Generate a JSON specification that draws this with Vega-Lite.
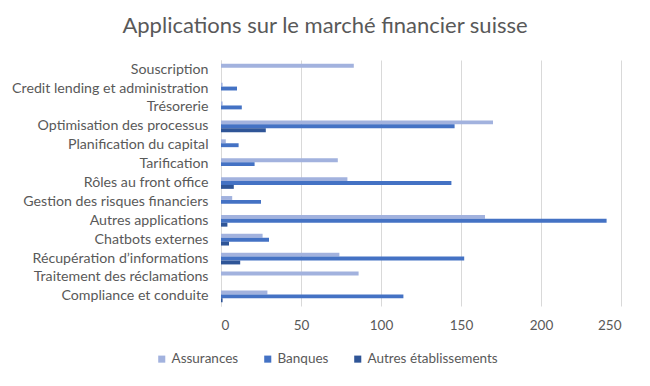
{
  "$schema": "https://vega.github.io/schema/vega-lite/v6.json",
  "width": 400,
  "height": 246,
  "autosize": {"type": "none"},
  "padding": {"left": 221, "top": 60, "right": 29, "bottom": 80},
  "background": "white",
  "title": {
    "text": "Applications sur le marché financier suisse",
    "font": "Lato",
    "fontSize": 22,
    "fontWeight": "normal",
    "color": "#595959",
    "anchor": "middle",
    "frame": "group",
    "dx": -96,
    "offset": 22
  },
  "data": {
    "values": [
      {"cat": "Souscription", "series": "Assurances", "value": 83},
      {"cat": "Souscription", "series": "Banques", "value": 0},
      {"cat": "Souscription", "series": "Autres établissements", "value": 0},
      {"cat": "Credit lending et administration", "series": "Assurances", "value": 1},
      {"cat": "Credit lending et administration", "series": "Banques", "value": 10},
      {"cat": "Credit lending et administration", "series": "Autres établissements", "value": 0},
      {"cat": "Trésorerie", "series": "Assurances", "value": 1},
      {"cat": "Trésorerie", "series": "Banques", "value": 13},
      {"cat": "Trésorerie", "series": "Autres établissements", "value": 0},
      {"cat": "Optimisation des processus", "series": "Assurances", "value": 170},
      {"cat": "Optimisation des processus", "series": "Banques", "value": 146},
      {"cat": "Optimisation des processus", "series": "Autres établissements", "value": 28},
      {"cat": "Planification du capital", "series": "Assurances", "value": 3},
      {"cat": "Planification du capital", "series": "Banques", "value": 11},
      {"cat": "Planification du capital", "series": "Autres établissements", "value": 0},
      {"cat": "Tarification", "series": "Assurances", "value": 73},
      {"cat": "Tarification", "series": "Banques", "value": 21},
      {"cat": "Tarification", "series": "Autres établissements", "value": 0},
      {"cat": "Rôles au front office", "series": "Assurances", "value": 79},
      {"cat": "Rôles au front office", "series": "Banques", "value": 144},
      {"cat": "Rôles au front office", "series": "Autres établissements", "value": 8},
      {"cat": "Gestion des risques financiers", "series": "Assurances", "value": 7},
      {"cat": "Gestion des risques financiers", "series": "Banques", "value": 25},
      {"cat": "Gestion des risques financiers", "series": "Autres établissements", "value": 0},
      {"cat": "Autres applications", "series": "Assurances", "value": 165},
      {"cat": "Autres applications", "series": "Banques", "value": 241},
      {"cat": "Autres applications", "series": "Autres établissements", "value": 4},
      {"cat": "Chatbots externes", "series": "Assurances", "value": 26},
      {"cat": "Chatbots externes", "series": "Banques", "value": 30},
      {"cat": "Chatbots externes", "series": "Autres établissements", "value": 5},
      {"cat": "Récupération d’informations", "series": "Assurances", "value": 74},
      {"cat": "Récupération d’informations", "series": "Banques", "value": 152},
      {"cat": "Récupération d’informations", "series": "Autres établissements", "value": 12},
      {"cat": "Traitement des réclamations", "series": "Assurances", "value": 86},
      {"cat": "Traitement des réclamations", "series": "Banques", "value": 0},
      {"cat": "Traitement des réclamations", "series": "Autres établissements", "value": 0},
      {"cat": "Compliance et conduite", "series": "Assurances", "value": 29},
      {"cat": "Compliance et conduite", "series": "Banques", "value": 114},
      {"cat": "Compliance et conduite", "series": "Autres établissements", "value": 1}
    ]
  },
  "mark": {"type": "bar"},
  "encoding": {
    "y": {
      "field": "cat",
      "type": "nominal",
      "sort": null,
      "title": null,
      "scale": {"paddingInner": 0.38, "paddingOuter": 0.2},
      "axis": {
        "domain": true,
        "domainColor": "#D9D9D9",
        "ticks": false,
        "grid": false,
        "labelFont": "Lato",
        "labelFontSize": 14.2,
        "labelColor": "#595959",
        "labelPadding": 13,
        "labelLimit": 300
      }
    },
    "yOffset": {
      "field": "series",
      "type": "nominal",
      "sort": ["Assurances", "Banques", "Autres établissements"]
    },
    "x": {
      "field": "value",
      "type": "quantitative",
      "title": null,
      "scale": {"domain": [0, 250], "nice": false},
      "axis": {
        "values": [0, 50, 100, 150, 200, 250],
        "domain": false,
        "ticks": false,
        "grid": true,
        "gridColor": "#D9D9D9",
        "labelFont": "Lato",
        "labelFontSize": 13.5,
        "labelColor": "#595959",
        "labelPadding": 12
      }
    },
    "color": {
      "field": "series",
      "type": "nominal",
      "sort": ["Assurances", "Banques", "Autres établissements"],
      "scale": {
        "domain": ["Assurances", "Banques", "Autres établissements"],
        "range": ["#A2B2DE", "#4472C4", "#2F5597"]
      },
      "legend": {
        "title": null,
        "orient": "none",
        "direction": "horizontal",
        "legendX": -66,
        "legendY": 292,
        "symbolType": "square",
        "symbolSize": 50,
        "labelFont": "Lato",
        "labelFontSize": 13.5,
        "labelColor": "#595959",
        "labelOffset": 3,
        "columnPadding": 22,
        "symbolOffset": 0
      }
    }
  },
  "config": {"view": {"stroke": null}}
}
